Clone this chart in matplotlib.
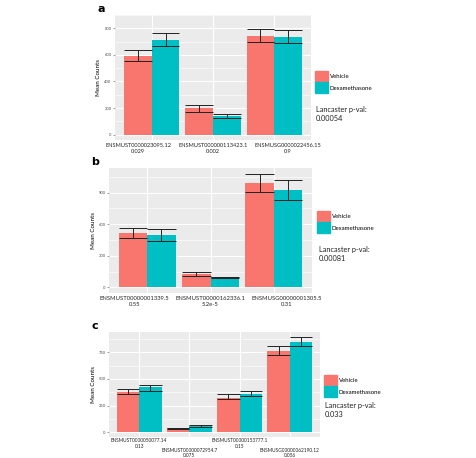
import numpy as np
import matplotlib
matplotlib.use("Agg")
import matplotlib.pyplot as plt
from matplotlib.patches import Patch

plt.rcParams['font.family'] = ['Lato', 'DejaVu Sans']

# panel a
genes_a = ["ENSMUST0000023095.12", "ENSMUST000000113423.1", "ENSMUSG0000022456.15"]
pvals_a = ["0.029", "0.002", "0.9"]
veh_a = [593, 198, 743]
veh_a_lo = [554, 174, 697]
veh_a_hi = [634, 221, 798]
dex_a = [712, 140, 736]
dex_a_lo = [667, 122, 692]
dex_a_hi = [761, 152, 784]
lanc_a = "0.00054"
ticks_a = [0, 200, 400, 600, 800]

# panel b
genes_b = ["ENSMUST00000001339.5", "ENSMUST00000162336.1", "ENSMUSG00000001305.5"]
pvals_b = ["0.55", "5.2e-5", "0.31"]
veh_b = [512, 125, 994]
veh_b_lo = [469, 112, 906]
veh_b_hi = [569, 150, 1081]
dex_b = [494, 94, 928]
dex_b_lo = [437, 87, 834]
dex_b_hi = [553, 97, 1022]
lanc_b = "0.00081"
ticks_b = [0, 300, 600, 900]

# panel c
genes_c = ["ENSMUST0000050077.14", "ENSMUST00000072954.7", "ENSMUST00000153777.1", "ENSMUSG00000062190.12"]
pvals_c = ["0.13", "0.075", "0.15", "0.056"]
veh_c = [380, 40, 321, 759]
veh_c_lo = [358, 31, 309, 722]
veh_c_hi = [401, 43, 358, 809]
dex_c = [420, 62, 358, 849]
dex_c_lo = [389, 52, 340, 809]
dex_c_hi = [444, 65, 383, 895]
lanc_c = "0.033"
ticks_c = [0, 250, 500, 750]

VEH = "#F8766D"
DEX = "#00BFC4"
W, H = 476, 458

fig = plt.figure(figsize=(4.76, 4.58), dpi=100)


def px_axes(l, t, r, b):
    return fig.add_axes([l / W, 1 - b / H, (r - l) / W, (b - t) / H])


def panel(box, letter, genes, pvals, veh, vlo, vhi, dex, dlo, dhi, ticks, lanc,
          leg_xy, txt_xy, lab_size, spread=0.0, stagger=False):
    ax = px_axes(*box)
    n = len(genes)
    x = np.arange(1, n + 1)
    w = 0.45
    ax.set_facecolor("#EBEBEB")
    ax.bar(x - w / 2, veh, w, color=VEH, zorder=2)
    ax.bar(x + w / 2, dex, w, color=DEX, zorder=2)
    for xs, lo, hi in [(x - w / 2, vlo, vhi), (x + w / 2, dlo, dhi)]:
        ax.vlines(xs, lo, hi, color="#222222", lw=0.7, zorder=3)
        ax.hlines(lo, xs - w / 2, xs + w / 2, color="#222222", lw=0.7, zorder=3)
        ax.hlines(hi, xs - w / 2, xs + w / 2, color="#222222", lw=0.7, zorder=3)
    top = max(max(vhi), max(dhi))
    ax.set_ylim(-0.05 * top, top * 1.05)
    ax.set_xlim(0.4, n + 0.6)
    ax.set_yticks(ticks)
    ax.set_yticklabels([str(t) for t in ticks], fontsize=3, color="#4D4D4D")
    minor = [(ticks[i] + ticks[i + 1]) / 2 for i in range(len(ticks) - 1)]
    minor.append(ticks[-1] + (ticks[1] - ticks[0]) / 2)
    ax.set_yticks(minor, minor=True)
    ax.grid(which="major", color="white", lw=0.8, zorder=0)
    ax.grid(which="minor", axis="y", color="white", lw=0.4, zorder=0)
    ax.set_axisbelow(True)
    ax.set_xticks(x)
    ax.set_xticklabels([])
    if stagger:
        # two rows of labels, alternating
        for i in range(n):
            row = i % 2
            ax.annotate(genes[i], (x[i], 0), xycoords=("data", "axes fraction"),
                        xytext=(0, -1 - 6.8 * row), textcoords="offset points",
                        ha="center", va="top", fontsize=lab_size, color="#222222")
            ax.annotate(pvals[i], (x[i], 0), xycoords=("data", "axes fraction"),
                        xytext=(0, -5.3 - 6.3 * row), textcoords="offset points",
                        ha="center", va="top", fontsize=lab_size, color="#222222")
    else:
        # group centres carry the grid, labels sit on slightly spread minor ticks
        ax.xaxis.remove_overlapping_locs = False
        ax.set_xticks(x + (x - (n + 1) / 2) * spread, minor=True)
        labels = [g + "\n" + p for g, p in zip(genes, pvals)]
        ax.set_xticklabels(labels, minor=True, fontsize=lab_size, color="#222222",
                           linespacing=1.35)
    ax.tick_params(axis="x", which="both", length=0, pad=2)
    ax.tick_params(axis="y", which="major", length=1.5, width=0.4, color="#555555", pad=1)
    ax.tick_params(axis="y", which="minor", length=0)
    for s in ax.spines.values():
        s.set_visible(False)
    ax.set_ylabel("Mean Counts", fontsize=4.5, labelpad=2)
    fig.text((box[0] - 14) / W, 1 - (box[1] - 6) / H, letter, fontsize=8,
             fontweight="bold", family="DejaVu Sans", va="center", ha="center")
    handles = [Patch(color=VEH, label="Vehicle"), Patch(color=DEX, label="Dexamethasone")]
    fig.legend(handles=handles, loc="upper left",
               bbox_to_anchor=(leg_xy[0] / W, 1 - leg_xy[1] / H),
               frameon=False, fontsize=4.3, handlelength=2.2, handleheight=2.5,
               handletextpad=0.3, labelspacing=0.0, borderpad=0, borderaxespad=0)
    fig.text(txt_xy[0] / W, 1 - txt_xy[1] / H, "Lancaster p-val:\n" + lanc,
             fontsize=5.3, va="top", ha="left", linespacing=1.3, color="#222222")
    return ax


panel((115, 15, 311, 140), "a", genes_a, pvals_a, veh_a, veh_a_lo, veh_a_hi,
      dex_a, dex_a_lo, dex_a_hi, ticks_a, lanc_a, (315, 71), (316, 106), 4.1,
      spread=0.22)
panel((109, 168, 312, 293), "b", genes_b, pvals_b, veh_b, veh_b_lo, veh_b_hi,
      dex_b, dex_b_lo, dex_b_hi, ticks_b, lanc_b, (317, 211), (319, 246), 4.2,
      spread=0.2)
panel((109, 332, 320, 437), "c", genes_c, pvals_c, veh_c, veh_c_lo, veh_c_hi,
      dex_c, dex_c_lo, dex_c_hi, ticks_c, lanc_c, (324, 375), (325, 402), 3.4,
      stagger=True)

fig.savefig("out.png", dpi=100)
